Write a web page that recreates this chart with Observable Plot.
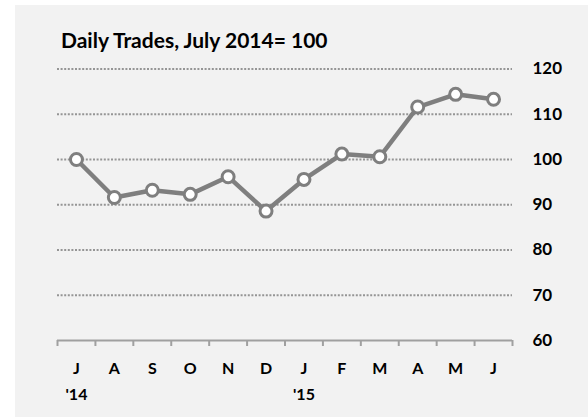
<!DOCTYPE html>
<html>
<head>
<meta charset="utf-8">
<script src="https://cdn.jsdelivr.net/npm/d3@7"></script>
<script src="https://cdn.jsdelivr.net/npm/@observablehq/plot@0.6"></script>
<style>
  html, body { margin: 0; padding: 0; background: #ffffff; }
  #wrap { position: relative; width: 588px; height: 417px; overflow: hidden; }
  #panel { position: absolute; left: 15px; top: 5px; width: 573px; height: 412px; background: #f2f2f2; }
  #title { position: absolute; left: 61px; top: 27px; font-family: Lato, "Open Sans", sans-serif; font-weight: 700; font-size: 21px; color: #000; white-space: nowrap; }
  #chart { position: absolute; left: 0; top: 0; }
  #chart svg { background: transparent; }
</style>
</head>
<body>
<div id="wrap">
  <div id="panel"></div>
  <div id="title">Daily Trades, July 2014= 100</div>
  <div id="chart"></div>
</div>
<script>
const months = ["J", "A", "S", "O", "N", "D", "J", "F", "M", "A", "M", "J"];
const years = ["'14", "", "", "", "", "", "'15", "", "", "", "", ""];
const values = [100, 91.6, 93.2, 92.3, 96.2, 88.6, 95.6, 101.2, 100.6, 111.6, 114.4, 113.3];
const yTicks = [60, 70, 80, 90, 100, 110, 120];
const gridTicks = [70, 80, 90, 100, 110, 120];

const data = values.map((v, i) => ({i, v, month: months[i], year: years[i]}));
const bounds = d3.range(months.length + 1).map(k => k - 0.5);
const yearData = data.filter(d => d.year !== "");

const grey = "#7f7f7f";
const font = "Lato, 'Open Sans', sans-serif";

const chart = Plot.plot({
  width: 588,
  height: 417,
  marginLeft: 57,
  marginRight: 76,
  marginTop: 68.5,
  marginBottom: 77,
  style: {background: "transparent", fontFamily: font},
  x: {type: "linear", domain: [-0.5, months.length - 0.5], axis: null},
  y: {domain: [60, 120], axis: null},
  marks: [
    Plot.ruleY(gridTicks, {stroke: "#959595", strokeWidth: 2, strokeDasharray: "2,1.6"}),
    Plot.ruleY([60], {stroke: "#a0a0a0", strokeWidth: 2}),
    Plot.axisX({ticks: bounds, tickSize: 6, tickFormat: () => "", label: null, stroke: "#a0a0a0", strokeWidth: 2}),
    Plot.text(data, {x: "i", y: () => 60, text: "month", dy: 28, fontSize: 16, fontWeight: 700, fill: "#000"}),
    Plot.text(yearData, {x: "i", y: () => 60, text: "year", dy: 54, fontSize: 16, fontWeight: 700, fill: "#000"}),
    Plot.text(yTicks, {x: () => months.length - 0.5, y: d => d, text: d => String(d), dx: 20, textAnchor: "start", fontSize: 17, fontWeight: 700, fill: "#000"}),
    Plot.line(data, {x: "i", y: "v", stroke: grey, strokeWidth: 4.5, strokeLinejoin: "round"}),
    Plot.dot(data, {x: "i", y: "v", r: 6, fill: "#ffffff", stroke: grey, strokeWidth: 3})
  ]
});
document.getElementById("chart").appendChild(chart);
</script>
</body>
</html>
